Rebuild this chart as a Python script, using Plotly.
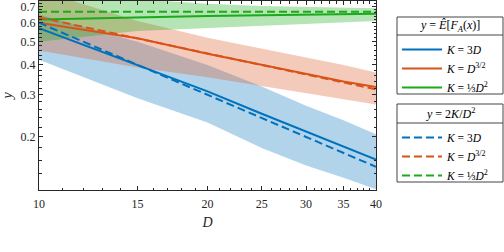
import plotly.graph_objects as go

# ---- data ----
D = [10, 15, 20, 25, 30, 35, 40]

# y = E[F_A(x)]  (solid lines) with shaded bands
blue_mid = [0.57, 0.40, 0.31, 0.25, 0.211, 0.182, 0.161]
blue_hi = [0.65, 0.50, 0.40, 0.325, 0.27, 0.235, 0.205]
blue_lo = [0.42, 0.29, 0.23, 0.18, 0.152, 0.135, 0.121]

orange_mid = [0.60, 0.517, 0.445, 0.40, 0.365, 0.341, 0.323]
orange_hi = [0.82, 0.61, 0.52, 0.47, 0.43, 0.40, 0.372]
orange_lo = [0.46, 0.39, 0.355, 0.325, 0.303, 0.287, 0.273]

green_mid = [0.62, 0.633, 0.64, 0.645, 0.648, 0.651, 0.654]
green_hi = [0.80, 0.75, 0.72, 0.705, 0.698, 0.693, 0.69]
green_lo = [0.50, 0.555, 0.572, 0.583, 0.595, 0.603, 0.611]

# y = 2K/D^2 (dashed lines)
blue_dash = [0.60, 0.40, 0.30, 0.24, 0.20, 0.1714, 0.15]
orange_dash = [0.632, 0.516, 0.447, 0.40, 0.365, 0.338, 0.316]
green_dash = [0.667, 0.667, 0.667, 0.667, 0.667, 0.667, 0.667]

x_ticks = [10, 15, 20, 25, 30, 35, 40]
x_minor = [11, 12, 13, 14, 16, 17, 18, 19, 21, 22, 23, 24, 26, 27, 28, 29,
           31, 32, 33, 34, 36, 37, 38, 39]
y_ticks = [0.2, 0.3, 0.4, 0.5, 0.6, 0.7]
y_tick_text = ["0.2", "0.3", "0.4", "0.5", "0.6", "0.7"]
y_minor = [0.12, 0.14, 0.16, 0.18, 0.22, 0.24, 0.26, 0.28, 0.32, 0.34, 0.36,
           0.38, 0.42, 0.44, 0.46, 0.48, 0.52, 0.54, 0.56, 0.58, 0.62, 0.64,
           0.66, 0.68, 0.72, 0.74]

labels = ["<i>K</i> = 3<i>D</i>",
          "<i>K</i> = <i>D</i><sup>3/2</sup>",
          "<i>K</i> = ⅓<i>D</i><sup>2</sup>"]
title1 = "<i>y</i> = <i>Ê</i>[<i>F</i><sub><i>A</i></sub>(<i>x</i>)]"
title2 = "<i>y</i> = 2<i>K</i>/<i>D</i><sup>2</sup>"

BLUE = "#0072BD"
ORANGE = "#D95319"
GREEN = "#1AAA1A"
fills = ["rgba(0,114,189,0.30)", "rgba(217,83,25,0.30)", "rgba(26,170,26,0.32)"]

FONT = "Liberation Serif"
AX = "#262626"

# plot-area geometry (pixels) used to place legend boxes in paper coords
W, H = 504, 252
ML, MR, MT, MB = 39, 128, 1, 62
PW = W - ML - MR
PH = H - MT - MB


def px_x(px):
    return (px - ML) / PW


def px_y(py):
    return (H - MB - py) / PH


fig = go.Figure()

bands = [(blue_hi, blue_lo), (orange_hi, orange_lo), (green_hi, green_lo)]
for (hi, lo), fc in zip(bands, fills):
    fig.add_trace(go.Scatter(
        x=D + D[::-1], y=hi + lo[::-1], fill="toself", fillcolor=fc,
        mode="lines", line=dict(width=0), showlegend=False, hoverinfo="skip"))

for ys, col, lab in zip([blue_mid, orange_mid, green_mid],
                        [BLUE, ORANGE, GREEN], labels):
    fig.add_trace(go.Scatter(x=D, y=ys, mode="lines", name=lab,
                             line=dict(color=col, width=2), legend="legend"))

for ys, col, lab in zip([blue_dash, orange_dash, green_dash],
                        [BLUE, ORANGE, GREEN], labels):
    fig.add_trace(go.Scatter(x=D, y=ys, mode="lines", name=lab,
                             line=dict(color=col, width=2, dash="8px,4px"),
                             legend="legend2"))

legend_common = dict(
    xanchor="left", yanchor="top", bgcolor="rgba(0,0,0,0)",
    borderwidth=0,
    font=dict(family=FONT, size=11.5, color="black"),
    itemwidth=40, tracegroupgap=0,
)

# legend boxes drawn as shapes: (left, top, right, bottom, separator y)
boxes = [(397, 17, 503, 94, 35), (397, 104, 503, 182, 123)]
shapes = []
for (l, t, r, b, s) in boxes:
    shapes.append(dict(type="rect", xref="paper", yref="paper",
                       x0=px_x(l), x1=px_x(r), y0=px_y(b), y1=px_y(t),
                       line=dict(color="#444444", width=1), fillcolor="white",
                       layer="below"))
    shapes.append(dict(type="line", xref="paper", yref="paper",
                       x0=px_x(l), x1=px_x(r), y0=px_y(s), y1=px_y(s),
                       line=dict(color="#444444", width=1)))

annotations = [
    dict(text=title1, xref="paper", yref="paper", x=px_x(450), y=px_y(26),
         showarrow=False, xanchor="center", yanchor="middle",
         font=dict(family=FONT, size=12, color="black")),
    dict(text=title2, xref="paper", yref="paper", x=px_x(450), y=px_y(113),
         showarrow=False, xanchor="center", yanchor="middle",
         font=dict(family=FONT, size=12, color="black")),
]

fig.update_layout(
    width=W, height=H,
    margin=dict(l=ML, r=MR, t=MT, b=MB),
    plot_bgcolor="white", paper_bgcolor="white",
    font=dict(family=FONT, size=12, color=AX),
    shapes=shapes, annotations=annotations,
    legend=dict(x=px_x(397), y=px_y(35), **legend_common),
    legend2=dict(x=px_x(397), y=px_y(123), **legend_common),
    xaxis=dict(
        type="log", range=[1, 1.60206], tickvals=x_ticks,
        ticktext=[str(v) for v in x_ticks], automargin=False,
        ticklabeloverflow="allow", ticklabelstandoff=3,
        ticks="inside", ticklen=4, tickcolor=AX, mirror="allticks",
        showline=True, linecolor=AX, linewidth=1, showgrid=False, zeroline=False,
        minor=dict(tickvals=x_minor, ticks="inside", ticklen=2.5, tickcolor=AX,
                   showgrid=False),
        title=dict(text="<i>D</i>", font=dict(family=FONT, size=14, color=AX),
                   standoff=6),
        tickfont=dict(family=FONT, size=12, color=AX),
    ),
    yaxis=dict(
        type="log", range=[-0.9208, -0.1308], tickvals=y_ticks,
        ticktext=y_tick_text, automargin=False, ticklabeloverflow="allow",
        ticks="inside", ticklen=4, tickcolor=AX, mirror="allticks",
        showline=True, linecolor=AX, linewidth=1, showgrid=False, zeroline=False,
        minor=dict(tickvals=y_minor, ticks="inside", ticklen=2.5, tickcolor=AX,
                   showgrid=False),
        title=dict(text="<i>y</i>", font=dict(family=FONT, size=14, color=AX),
                   standoff=8),
        tickfont=dict(family=FONT, size=12, color=AX),
    ),
)

# remove the browser's default 8px body margin so the figure sits at (0, 0)
fig.write_html("out.html",
               config={"displayModeBar": False},
               post_script="document.body.style.margin='0';")
